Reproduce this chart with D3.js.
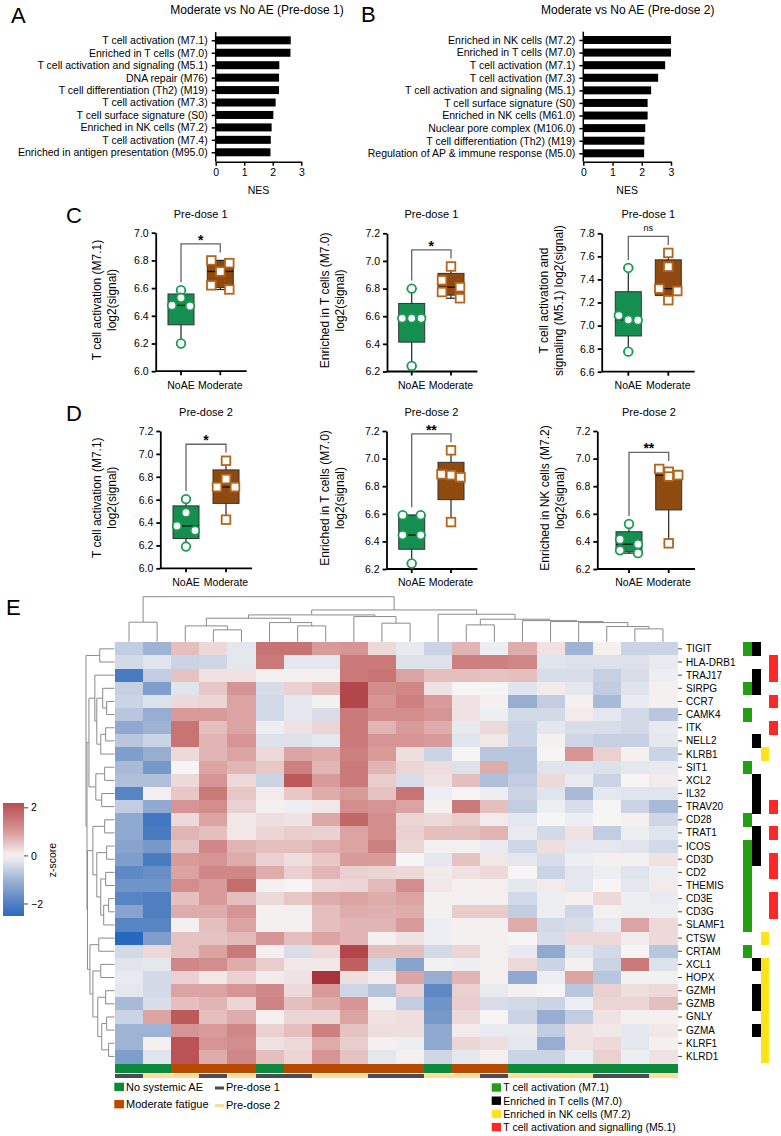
<!DOCTYPE html>
<html>
<head>
<meta charset="utf-8">
<script src="https://cdn.jsdelivr.net/npm/d3@7"></script>
<style>
  body { margin: 0; background: #fff; }
  svg { display: block; font-family: "Liberation Sans", Arial, sans-serif; }
</style>
</head>
<body>
<div class="svg-container"></div>
<script>
// ---- panel A / B : NES bars
const nesLabelsA = ["T cell activation (M7.1)", "Enriched in T cells (M7.0)", "T cell activation and signaling (M5.1)",
  "DNA repair (M76)", "T cell differentiation (Th2) (M19)", "T cell activation (M7.3)", "T cell surface signature (S0)",
  "Enriched in NK cells (M7.2)", "T cell activation (M7.4)", "Enriched in antigen presentation (M95.0)"];
const nesA = [2.63, 2.62, 2.23, 2.22, 2.22, 2.10, 2.02, 1.96, 1.93, 1.92];
const nesLabelsB = ["Enriched in NK cells (M7.2)", "Enriched in T cells (M7.0)", "T cell activation (M7.1)",
  "T cell activation (M7.3)", "T cell activation and signaling (M5.1)", "T cell surface signature (S0)",
  "Enriched in NK cells (M61.0)", "Nuclear pore complex (M106.0)", "T cell differentiation (Th2) (M19)",
  "Regulation of AP & immune response (M5.0)"];
const nesB = [3.0, 3.0, 2.8, 2.56, 2.32, 2.2, 2.2, 2.12, 2.09, 2.08];
const nesTicks = [0, 1, 2, 3];

// ---- panels C / D : module scores, log2(signal)
const groups = ["NoAE", "Moderate"];
const c1NoAE = [6.585, 6.53, 6.475, 6.47, 6.20];
const c1Mod  = [6.80, 6.78, 6.72, 6.62, 6.59];
const c2NoAE = [6.80, 6.585, 6.585, 6.585, 6.24];
const c2Mod  = [6.96, 6.86, 6.81, 6.775, 6.73];
const c3NoAE = [7.50, 7.087, 7.05, 7.046, 6.774];
const c3Mod  = [7.63, 7.51, 7.32, 7.30, 7.22];
const d1NoAE = [6.605, 6.486, 6.37, 6.33, 6.19];
const d1Mod  = [6.94, 6.78, 6.71, 6.71, 6.425];
const d2NoAE = [6.59, 6.59, 6.446, 6.446, 6.24];
const d2Mod  = [7.06, 6.886, 6.88, 6.865, 6.54];
const d3NoAE = [6.526, 6.414, 6.38, 6.335, 6.315];
const d3Mod  = [6.925, 6.905, 6.88, 6.87, 6.386];

// ---- panel E : heatmap
const genes = ["TIGIT", "HLA-DRB1", "TRAJ17", "SIRPG", "CCR7", "CAMK4", "ITK", "NELL2", "KLRB1", "SIT1", "XCL2",
  "IL32", "TRAV20", "CD28", "TRAT1", "ICOS", "CD3D", "CD2", "THEMIS", "CD3E", "CD3G", "SLAMF1", "CTSW", "CRTAM",
  "XCL1", "HOPX", "GZMH", "GZMB", "GNLY", "GZMA", "KLRF1", "KLRD1"];
const zscores = [
  [-0.6,-1.0,0.6,0.3,-0.2,1.6,1.6,1.0,1.1,0.3,-0.15,-0.5,0.7,-0.1,0.8,0.2,-1.0,0.05,-0.5,-0.5],
  [-0.4,-0.25,-0.5,-0.45,-0.2,1.5,-0.2,-0.2,1.5,1.5,-0.3,-0.3,1.4,1.4,1.3,-0.25,-0.3,-0.3,-0.3,-0.15],
  [-2.1,-0.6,0.55,0.2,0.2,0.05,0.05,0.05,1.5,1.6,0.9,0.6,0.6,0.55,0.6,-0.35,-0.35,-0.55,-0.35,-0.1],
  [-0.55,-1.4,-0.25,0.5,1.1,-0.35,0.4,0.6,2.3,1.2,1.3,0.2,0.0,0.0,-0.25,0.1,-0.2,-0.6,-0.25,0.05],
  [-0.5,-0.3,0.3,0.35,0.9,-0.4,-0.2,-0.05,2.3,1.1,1.4,1.0,0.2,0.05,-1.1,-0.6,0.05,-0.9,-0.15,0.05],
  [-0.7,-1.1,1.0,1.0,0.9,-0.4,-0.2,-0.35,1.5,1.2,1.2,1.1,0.2,-0.1,-0.4,-0.4,0.1,-0.2,-0.4,-0.7],
  [-1.2,-1.0,1.6,0.6,0.9,-0.1,0.2,0.35,1.5,0.7,1.0,0.8,-0.15,0.3,-0.5,-0.2,-0.35,-0.35,-0.4,-0.15],
  [-0.7,-0.5,1.6,0.7,1.1,-0.3,-0.3,-0.2,1.5,1.1,1.1,1.0,-0.25,0.15,-0.5,0.05,-0.45,-0.55,-0.55,-0.2],
  [-1.4,-1.1,0.3,0.7,0.9,0.3,0.9,0.8,1.4,1.0,0.25,-0.5,0.0,-0.7,-0.7,0.0,1.1,0.4,0.05,-0.5],
  [-0.9,-1.5,0.0,0.9,0.7,0.5,1.4,0.7,1.5,0.7,0.35,0.25,-0.3,0.8,-0.7,-0.25,-0.25,-0.3,-0.2,-0.15],
  [-0.8,-0.8,0.3,1.1,0.3,-0.5,2.0,1.0,1.5,0.45,-0.35,0.2,0.6,-0.8,-0.6,0.3,-0.15,-0.5,0.0,0.1],
  [-1.9,0.05,0.5,1.5,0.5,0.1,0.5,0.8,1.0,0.55,1.6,-0.1,0.0,-0.1,-0.5,-0.25,-0.9,-0.2,-0.25,-0.25],
  [-0.6,-1.2,1.1,1.2,0.4,0.05,-0.1,0.15,1.2,1.1,0.9,0.05,1.5,0.6,-0.6,-0.1,-0.35,0.0,-0.5,-0.9],
  [-1.2,-2.2,0.3,0.9,0.15,0.25,0.2,0.85,1.8,1.2,0.35,0.3,0.45,0.1,-0.2,0.0,-0.1,0.0,0.05,-0.45],
  [-1.2,-2.1,0.7,0.6,0.15,0.35,0.45,0.4,0.9,1.2,0.4,0.6,0.6,0.7,-0.15,-0.4,0.2,-0.6,-0.1,-0.25],
  [-1.3,-1.5,0.55,1.3,0.7,0.6,0.6,0.75,0.9,1.4,0.35,0.05,0.05,-0.15,-0.45,0.25,-0.2,-0.2,-0.25,-0.4],
  [-1.4,-2.1,1.0,1.1,0.8,0.4,0.25,0.5,1.0,1.0,0.0,-0.2,0.55,0.15,-0.2,-0.35,-0.1,0.05,0.05,0.2],
  [-1.8,-1.7,0.9,1.3,1.3,0.8,0.4,0.7,0.4,0.35,0.3,0.1,0.2,0.3,0.0,-0.5,-0.2,-0.1,-0.25,-0.1],
  [-1.6,-1.6,1.2,1.0,1.7,0.05,0.0,0.3,0.35,0.65,1.2,0.15,0.05,0.05,-0.2,0.1,-0.2,0.0,-0.2,0.1],
  [-1.9,-2.0,0.6,1.0,0.6,0.3,0.5,0.8,0.9,0.8,0.9,0.05,0.05,0.05,-0.4,-0.1,0.05,0.3,-0.1,-0.15],
  [-1.3,-2.0,0.8,0.8,1.1,0.05,0.05,0.6,0.8,0.75,0.8,0.05,0.45,0.45,-0.6,-0.1,-0.45,0.05,-0.1,-0.1],
  [-1.9,-1.9,0.05,0.6,0.9,0.05,0.05,0.6,0.7,0.7,1.0,-0.1,0.05,0.05,0.8,-0.4,-0.35,-0.15,0.9,0.3],
  [-2.6,-1.4,0.55,0.55,0.65,1.1,0.6,0.9,0.7,0.05,0.2,-0.1,0.05,0.05,0.0,-0.35,0.3,0.3,0.1,0.3],
  [-0.4,0.3,0.55,0.9,1.5,0.05,-0.35,0.3,2.3,0.6,0.6,-0.4,0.35,0.05,-0.15,-1.2,-0.2,-0.4,0.0,-0.7],
  [-0.25,-0.2,1.3,1.2,0.8,0.45,0.15,0.15,1.9,-0.45,-1.3,-0.05,-0.1,0.05,0.3,-0.5,0.05,-0.5,1.5,-0.3],
  [-0.15,-0.4,0.4,0.15,0.4,0.1,0.2,2.6,0.25,0.1,0.9,-1.1,0.7,0.05,-1.2,-0.1,0.9,-0.7,-0.05,-0.05],
  [-0.2,-0.4,0.9,0.9,1.1,1.3,0.3,1.0,-0.45,-0.75,0.4,-1.8,0.4,-0.15,0.05,0.0,-0.7,0.4,0.25,0.3],
  [-0.9,-0.35,0.6,0.7,0.35,1.35,0.6,0.8,1.1,0.05,-0.6,-1.6,0.45,-0.35,-0.4,-0.5,-0.1,0.35,0.35,0.6],
  [-0.5,0.9,2.0,0.6,0.8,0.05,0.35,0.35,0.9,0.2,0.25,-1.5,0.3,0.0,-0.5,-1.1,-0.6,0.2,0.05,0.05],
  [-1.0,-1.0,1.1,1.0,1.3,0.4,0.6,1.4,0.55,0.25,0.25,-1.2,0.1,-0.15,-0.15,-0.6,0.2,0.15,-0.2,0.15],
  [-1.0,0.05,2.1,1.1,1.2,0.2,0.3,0.8,0.45,0.05,-0.1,-1.2,0.35,0.25,-0.2,-1.1,0.2,0.3,-0.2,0.05],
  [-1.4,-0.25,2.1,0.8,1.3,0.6,0.35,1.1,0.55,-0.2,0.05,-0.45,-0.2,0.05,-0.5,-0.5,-0.1,0.4,-0.1,0.2]
];
const colCondition = ["NoAE","NoAE","Mod","Mod","Mod","NoAE","Mod","Mod","Mod","Mod",
                      "Mod","NoAE","Mod","Mod","NoAE","NoAE","NoAE","NoAE","NoAE","NoAE"];
const colTimepoint = ["P1","P2","P2","P1","P2","P1","P1","P2","P2","P1",
                      "P1","P2","P2","P1","P2","P2","P2","P1","P1","P2"];
// dendrograms as [height, left, right], leaves are column / row indices
const colTree = [10.0, [4.35, 0, 1],
  [7.06,
    [5.96,
      [5.23, [3.53, 2, [2.65, 3, 4]], [4.26, 5, [3.53, 6, 7]]],
      [5.59, 8, [4.13, 9, 10]]],
    [6.11, 11,
      [5.01, [3.75, 12, 13],
        [4.70, 14, [4.48, 15, [4.26, 16, [3.38, 17, [2.87, 18, 19]]]]]]]]];
const rowTree = [29, [15, 0, 1],
  [28,
    [26,
      [20, 2, [18, [12, 3, [8, 4, 5]], [14, [9, 6, 7], 8]]],
      [19, [10, 9, 10], [13, 11, 12]]],
    [27.5,
      [22, [10, 13, 14], [18, [8, 15, 16], [14, [9, 17, 18], [11, [6, 19, 20], 21]]]],
      [25, [16, 22, 23], [22, [14, 24, 25], [17, [9, 26, 27], [13, [8, 28, 29], [6, 30, 31]]]]]]]];
const modM71 = ["TIGIT","SIRPG","CAMK4","SIT1","CD28","ICOS","CD3D","CD2","THEMIS","CD3E","CD3G","SLAMF1","CRTAM"];
const modM70 = ["TIGIT","TRAJ17","SIRPG","NELL2","XCL2","IL32","TRAV20","TRAT1","ICOS","CD3D","XCL1","GZMH","GZMB","GZMA"];
const modM72 = ["KLRB1","CTSW","XCL1","HOPX","GZMH","GZMB","GNLY","GZMA","KLRF1","KLRD1"];
const modM51 = ["HLA-DRB1","TRAJ17","CCR7","ITK","TRAV20","TRAT1","CD3D","CD2","CD3E","CD3G"];
const zTicks = [2, 0, -2];

// ------------------------------------------------------------------
const W = 781, H = 1136;
const svg = d3.select(".svg-container").append("svg")
  .attr("width", W).attr("height", H).attr("viewBox", "0 0 " + W + " " + H);
svg.append("rect").attr("width", W).attr("height", H).attr("fill", "#fff");

function letter(t, x, y) {
  svg.append("text").attr("x", x).attr("y", y).attr("font-size", 22).text(t);
}
function styleAxis(g, sw) {
  g.selectAll(".domain").attr("stroke", "#000").attr("stroke-width", sw);
  g.selectAll(".tick line").attr("stroke", "#000").attr("stroke-width", sw);
  g.selectAll(".tick text").attr("fill", "#000").attr("font-size", 10.5)
    .attr("font-family", "'Liberation Sans', Arial, sans-serif");
}

// ---------------- A / B
function nesChart(labels, values, o) {
  const x = d3.scaleLinear().domain([0, 3]).range([o.x0, o.x1]);
  const y = d3.scalePoint().domain(labels).range([o.y0, o.y1]).padding(0.5);
  const g = svg.append("g");
  g.append("text").attr("x", o.tx).attr("y", 14).attr("text-anchor", "middle")
    .attr("font-size", 12).text(o.title);
  g.selectAll("rect.bar").data(values).join("rect").attr("class", "bar")
    .attr("x", x(0)).attr("y", (d, i) => y(labels[i]) - 4)
    .attr("width", d => x(d) - x(0)).attr("height", 8).attr("fill", "#000");
  const ya = g.append("g").attr("transform", `translate(${x(0)},0)`)
    .call(d3.axisLeft(y).tickSize(4).tickPadding(4));
  ya.select(".domain").remove();
  styleAxis(ya, 1.5);
  g.append("line").attr("x1", x(0)).attr("x2", x(0)).attr("y1", o.y0 - 2).attr("y2", o.xAxisY)
    .attr("stroke", "#000").attr("stroke-width", 1.5);
  const xa = g.append("g").attr("transform", `translate(0,${o.xAxisY})`)
    .call(d3.axisBottom(x).tickValues(nesTicks).tickFormat(d3.format("d")).tickSize(4).tickSizeOuter(0).tickPadding(3));
  styleAxis(xa, 1.5);
  g.append("text").attr("x", (o.x0 + o.x1) / 2).attr("y", 194).attr("text-anchor", "middle")
    .attr("font-size", 10.5).text("NES");
}
letter("A", 11, 23);
letter("B", 361, 22);
nesChart(nesLabelsA, nesA, {x0: 215.7, x1: 301.3, y0: 34.1, y1: 158.5, xAxisY: 161.7, tx: 257, title: "Moderate vs No AE (Pre-dose 1)"});
nesChart(nesLabelsB, nesB, {x0: 583.3, x1: 671, y0: 33.7, y1: 159.6, xAxisY: 161.7, tx: 627.7, title: "Moderate vs No AE (Pre-dose 2)"});

// ---------------- C / D box plots
const greenFill = "#148f50", greenLine = "#1a9c55", brownFill = "#8f4a10", brownLine = "#b5651d";

function quant(vals, p) {           // (n+1)p method
  const s = vals.slice().sort((a, b) => a - b), n = s.length;
  const pos = (n + 1) * p, lo = Math.floor(pos), fr = pos - lo;
  if (lo < 1) return s[0];
  if (lo >= n) return s[n - 1];
  return s[lo - 1] + fr * (s[lo] - s[lo - 1]);
}
function spread(vals, y) {          // horizontal offsets for overlapping points
  const idx = vals.map((v, i) => i).sort((a, b) => vals[b] - vals[a]);
  const off = new Array(vals.length).fill(0);
  let i = 0;
  while (i < idx.length) {
    const row = [idx[i]];
    let j = i + 1;
    while (j < idx.length && Math.abs(y(vals[idx[j]]) - y(vals[idx[i]])) < 7.5) { row.push(idx[j]); j++; }
    const n = row.length;
    row.forEach((k, m) => { off[k] = n === 1 ? 0 : n === 2 ? (m === 0 ? -9 : 9) : (m - (n - 1) / 2) * 9.5; });
    i = j;
  }
  return off;
}

function boxPanel(p) {
  const y = d3.scaleLinear().domain(p.domain).range([p.bottom, p.top]);
  const x = d3.scalePoint().domain(groups).range(p.gx);
  const g = svg.append("g");
  const ticks = d3.range(p.domain[0], p.domain[1] + 0.001, 0.2);
  const ya = g.append("g").attr("transform", `translate(${p.axisX},0)`)
    .call(d3.axisLeft(y).tickValues(ticks).tickFormat(d3.format(".1f")).tickSize(4).tickSizeOuter(0).tickPadding(3));
  styleAxis(ya, 1.8);
  g.append("line").attr("x1", p.axisX).attr("x2", p.xEnd).attr("y1", p.bottom).attr("y2", p.bottom)
    .attr("stroke", "#000").attr("stroke-width", 1.8);
  groups.forEach(gr => {
    g.append("line").attr("x1", x(gr)).attr("x2", x(gr)).attr("y1", p.bottom).attr("y2", p.bottom + 4)
      .attr("stroke", "#000").attr("stroke-width", 1.8);
  });
  g.append("text").attr("x", x("NoAE")).attr("y", p.bottom + 17.3).attr("text-anchor", "middle")
    .attr("font-size", 10.5).text("NoAE");
  g.append("text").attr("x", x("Moderate")).attr("y", p.bottom + 17.3).attr("text-anchor", "middle")
    .attr("font-size", 10.5).text("Moderate");
  g.append("text").attr("x", (p.gx[0] + p.gx[1]) / 2).attr("y", p.titleY).attr("text-anchor", "middle")
    .attr("font-size", 11).text(p.title);
  p.ylab.forEach((t, i) => {
    g.append("text").attr("transform", `translate(${p.labX[i]},${(p.top + p.bottom) / 2 - 2}) rotate(-90)`)
      .attr("text-anchor", "middle").attr("dy", "0.35em").attr("font-size", 12).text(t);
  });
  const sets = [[p.noae, "NoAE", greenFill, greenLine, "circle"], [p.mod, "Moderate", brownFill, brownLine, "square"]];
  sets.forEach(([vals, gr, fill, line, shape]) => {
    const cx = x(gr), bw = 26;
    const q1 = quant(vals, 0.25), q2 = quant(vals, 0.5), q3 = quant(vals, 0.75);
    const mn = d3.min(vals), mx = d3.max(vals);
    g.append("line").attr("x1", cx).attr("x2", cx).attr("y1", y(mx)).attr("y2", y(mn))
      .attr("stroke", "#222").attr("stroke-width", 1.2);
    [mn, mx].forEach(v => g.append("line").attr("x1", cx - 5).attr("x2", cx + 5).attr("y1", y(v)).attr("y2", y(v))
      .attr("stroke", "#222").attr("stroke-width", 1.2));
    g.append("rect").attr("x", cx - bw / 2).attr("y", y(q3)).attr("width", bw).attr("height", y(q1) - y(q3))
      .attr("fill", fill).attr("stroke", "#333").attr("stroke-width", 1);
    g.append("line").attr("x1", cx - bw / 2).attr("x2", cx + bw / 2).attr("y1", y(q2)).attr("y2", y(q2))
      .attr("stroke", "#111").attr("stroke-width", 1.3);
    const off = spread(vals, y);
    vals.forEach((v, i) => {
      if (shape === "circle") {
        g.append("circle").attr("cx", cx + off[i]).attr("cy", y(v)).attr("r", 4.3)
          .attr("fill", "#fff").attr("stroke", line).attr("stroke-width", 1.8);
      } else {
        g.append("rect").attr("x", cx + off[i] - 4.3).attr("y", y(v) - 4.3).attr("width", 8.6).attr("height", 8.6)
          .attr("fill", "#fff").attr("stroke", line).attr("stroke-width", 1.8);
      }
    });
  });
  // significance bracket
  const yTop = Math.min(y(d3.max(p.noae)), y(d3.max(p.mod))) - 16.5;
  const xa = x("NoAE"), xb = x("Moderate");
  g.append("path").attr("d", `M${xa},${y(d3.max(p.noae)) - 8}V${yTop}H${xb}V${y(d3.max(p.mod)) - 8}`)
    .attr("fill", "none").attr("stroke", "#666").attr("stroke-width", 1.3);
  if (p.sig === "ns") {
    g.append("text").attr("x", (xa + xb) / 2).attr("y", yTop - 5).attr("text-anchor", "middle")
      .attr("font-size", 9).text("ns");
  } else {
    g.append("text").attr("x", (xa + xb) / 2).attr("y", yTop + 1).attr("text-anchor", "middle")
      .attr("font-size", 14).attr("font-weight", "bold").text(p.sig);
  }
}

letter("C", 66, 223);
letter("D", 66, 421);
boxPanel({noae: c1NoAE, mod: c1Mod, domain: [6.0, 7.0], axisX: 155.7, top: 232.7, bottom: 371.2, gx: [181, 220.3], xEnd: 246.7,
  title: "Pre-dose 1", titleY: 218, ylab: ["T cell activation (M7.1)", "log2(signal)"], labX: [96.7, 111.5], sig: "*"});
boxPanel({noae: c2NoAE, mod: c2Mod, domain: [6.2, 7.2], axisX: 387, top: 233.3, bottom: 371.5, gx: [411.7, 451], xEnd: 477.4,
  title: "Pre-dose 1", titleY: 218, ylab: ["Enriched in T cells (M7.0)", "log2(signal)"], labX: [325, 340], sig: "*"});
boxPanel({noae: c3NoAE, mod: c3Mod, domain: [6.6, 7.8], axisX: 601.7, top: 233.3, bottom: 371.7, gx: [628.3, 668.3], xEnd: 694.7,
  title: "Pre-dose 1", titleY: 218, ylab: ["T cell activation and", "signaling (M5.1) log2(signal)"], labX: [543.3, 558.3], sig: "ns"});
boxPanel({noae: d1NoAE, mod: d1Mod, domain: [6.0, 7.2], axisX: 160.3, top: 431, bottom: 568.3, gx: [186, 226], xEnd: 252,
  title: "Pre-dose 2", titleY: 416, ylab: ["T cell activation (M7.1)", "log2(signal)"], labX: [96.7, 111.5], sig: "*"});
boxPanel({noae: d2NoAE, mod: d2Mod, domain: [6.2, 7.2], axisX: 386.5, top: 431, bottom: 569, gx: [411.7, 451], xEnd: 477.4,
  title: "Pre-dose 2", titleY: 416, ylab: ["Enriched in T cells (M7.0)", "log2(signal)"], labX: [325, 340], sig: "**"});
boxPanel({noae: d3NoAE, mod: d3Mod, domain: [6.2, 7.2], axisX: 597.3, top: 431, bottom: 569, gx: [629, 668.7], xEnd: 695,
  title: "Pre-dose 2", titleY: 416, ylab: ["Enriched in NK cells (M7.2)", "log2(signal)"], labX: [545, 560], sig: "**"});

// ---------------- E heatmap
letter("E", 6, 615);
const hx0 = 115, hx1 = 677, hy0 = 642.3, hy1 = 1063;
const xCol = d3.scaleBand().domain(d3.range(20)).range([hx0, hx1]);
const yRow = d3.scaleBand().domain(genes).range([hy0, hy1]);
const zColor = d3.scaleLinear().domain([-2.7, -2, -1, 0, 1, 2, 2.7])
  .range(["#1f63c0", "#4f7fc0", "#9fb3d4", "#f6f4f4", "#d99a9a", "#bc5a5a", "#a52c36"]).clamp(true);

const hm = svg.append("g").attr("shape-rendering", "crispEdges");
genes.forEach((gname, r) => {
  hm.selectAll(null).data(zscores[r]).join("rect")
    .attr("x", (d, c) => xCol(c)).attr("y", yRow(gname))
    .attr("width", xCol.bandwidth() + 0.5).attr("height", yRow.bandwidth() + 0.5)
    .attr("fill", d => zColor(d));
});

// gene labels
const gl = svg.append("g");
genes.forEach(gname => {
  const yc = yRow(gname) + yRow.bandwidth() / 2;
  gl.append("line").attr("x1", hx1 + 1).attr("x2", hx1 + 5).attr("y1", yc).attr("y2", yc)
    .attr("stroke", "#444").attr("stroke-width", 1);
  gl.append("text").attr("x", hx1 + 9).attr("y", yc).attr("dy", "0.35em").attr("font-size", 10).text(gname);
});

// dendrograms
function drawTree(tree, pos, hScale, vertical, g) {
  function walk(node) {
    if (typeof node === "number") return {p: pos(node), h: 0};
    const [h, a, b] = node;
    const A = walk(a), B = walk(b);
    const d = vertical
      ? `M${A.p},${hScale(A.h)}V${hScale(h)}H${B.p}V${hScale(B.h)}`
      : `M${hScale(A.h)},${A.p}H${hScale(h)}V${B.p}H${hScale(B.h)}`;
    g.append("path").attr("d", d).attr("fill", "none").attr("stroke", "#8a8a8a").attr("stroke-width", 1);
    return {p: (A.p + B.p) / 2, h: h};
  }
  walk(tree);
}
const colH = d3.scaleLinear().domain([0, 10]).range([hy0 - 0.5, 596.7]);
drawTree(colTree, c => xCol(c) + xCol.bandwidth() / 2, colH, true, svg.append("g"));
const rowH = d3.scaleLinear().domain([0, 29]).range([hx0 - 0.5, 86]);
drawTree(rowTree, r => yRow(genes[r]) + yRow.bandwidth() / 2, rowH, false, svg.append("g"));

// column annotations
const condColor = {NoAE: "#0b8a3c", Mod: "#b84a00"};
const timeColor = {P1: "#4b4b55", P2: "#fddc9c"};
const ann = svg.append("g").attr("shape-rendering", "crispEdges");
ann.selectAll("rect.cond").data(colCondition).join("rect").attr("class", "cond")
  .attr("x", (d, c) => xCol(c)).attr("y", 1064.3).attr("width", xCol.bandwidth() + 0.5).attr("height", 8.4)
  .attr("fill", d => condColor[d]);
ann.selectAll("rect.time").data(colTimepoint).join("rect").attr("class", "time")
  .attr("x", (d, c) => xCol(c)).attr("y", 1074.3).attr("width", xCol.bandwidth() + 0.5).attr("height", 4)
  .attr("fill", d => timeColor[d]);

// module membership columns
const modules = [[modM71, "#22a012"], [modM70, "#000000"], [modM72, "#ffe31a"], [modM51, "#ff2828"]];
const modG = svg.append("g").attr("shape-rendering", "crispEdges");
modules.forEach(([list, col], k) => {
  modG.selectAll(null).data(list).join("rect")
    .attr("x", 743.3 + k * 8.7).attr("y", d => yRow(d)).attr("width", 8.7).attr("height", yRow.bandwidth() + 0.4)
    .attr("fill", col);
});

// colour key
const defs = svg.append("defs");
const grad = defs.append("linearGradient").attr("id", "zgrad").attr("x1", 0).attr("x2", 0).attr("y1", 0).attr("y2", 1);
const zKey = d3.scaleLinear().domain([2.2, -2.5]).range([803, 916]);
d3.range(0, 1.0001, 0.05).forEach(t => {
  const v = 2.2 + (-2.5 - 2.2) * t;
  grad.append("stop").attr("offset", t).attr("stop-color", zColor(v));
});
svg.append("rect").attr("x", 3).attr("y", 803).attr("width", 21).attr("height", 113).attr("fill", "url(#zgrad)");
zTicks.forEach(v => {
  svg.append("line").attr("x1", 24).attr("x2", 28).attr("y1", zKey(v)).attr("y2", zKey(v)).attr("stroke", "#444");
  svg.append("text").attr("x", 31).attr("y", zKey(v)).attr("dy", "0.35em").attr("font-size", 10.5).text(v === 0 ? "0" : (v < 0 ? "\u22122" : "2"));
});
svg.append("text").attr("transform", "translate(52,860) rotate(-90)").attr("text-anchor", "middle")
  .attr("dy", "0.35em").attr("font-size", 10.5).text("z-score");

// legends
const lg = svg.append("g");
[["No systemic AE", condColor.NoAE, 1082.7], ["Moderate fatigue", condColor.Mod, 1100]].forEach(([t, c, y]) => {
  lg.append("rect").attr("x", 114.3).attr("y", y).attr("width", 9.7).attr("height", 8.4).attr("fill", c);
  lg.append("text").attr("x", 126).attr("y", y + 8.4).attr("font-size", 11).text(t);
});
[["Pre-dose 1", timeColor.P1, 1086.5], ["Pre-dose 2", timeColor.P2, 1104]].forEach(([t, c, y]) => {
  lg.append("rect").attr("x", 215).attr("y", y).attr("width", 9).attr("height", 3).attr("fill", c);
  lg.append("text").attr("x", 226).attr("y", y + 4.5).attr("font-size", 11).text(t);
});
[["T cell activation (M7.1)", "#22a012"], ["Enriched in T cells (M7.0)", "#000000"],
 ["Enriched in NK cells (M7.2)", "#ffe31a"], ["T cell activation and signalling (M5.1)", "#ff2828"]].forEach(([t, c], i) => {
  const y = 1083.3 + i * 13.2;
  lg.append("rect").attr("x", 491.7).attr("y", y).attr("width", 9.3).attr("height", 8.4).attr("fill", c);
  lg.append("text").attr("x", 503.3).attr("y", y + 8).attr("font-size", 10.5).text(t);
});
</script>
</body>
</html>
